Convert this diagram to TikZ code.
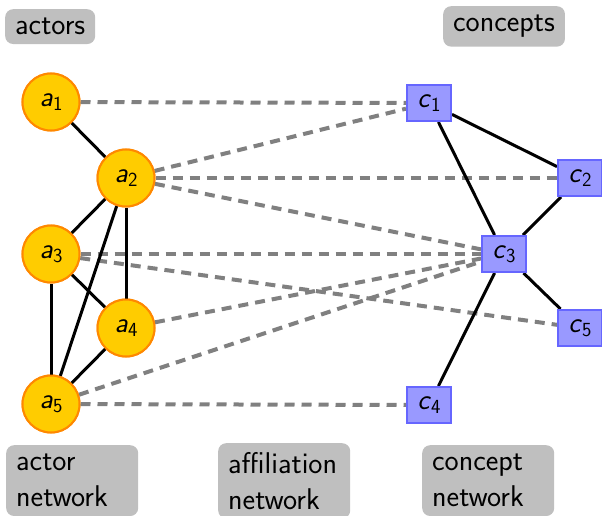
\documentclass[tikz,border=0pt]{standalone}
\usepackage{fontspec}
\definecolor{actorfill}{RGB}{255,204,0}
\definecolor{actorline}{RGB}{255,136,0}
\definecolor{conceptfill}{RGB}{153,153,255}
\definecolor{conceptline}{RGB}{102,102,255}
\definecolor{tagfill}{RGB}{191,191,191}
\definecolor{affil}{RGB}{128,128,128}
\newcommand\idx[2]{\textit{#1}\raisebox{-4pt}{\fontsize{20}{20}\selectfont #2}}
\tikzset{
  actor/.style={circle, fill=actorfill, draw=actorline, line width=2pt,
    minimum size=57pt, inner sep=0pt, font=\sffamily\fontsize{29}{34}\selectfont},
  concept/.style={rectangle, fill=conceptfill, draw=conceptline, line width=2pt,
    minimum width=44pt, minimum height=36pt, inner sep=0pt,
    font=\sffamily\fontsize{29}{34}\selectfont},
  tag/.style={rectangle, rounded corners=8pt, fill=tagfill, anchor=north west,
    inner xsep=10pt, inner ysep=9pt, align=left,
    font=\sffamily\fontsize{30}{36}\selectfont},
  wide tag/.style={tag, text width=112pt},
  tie/.style={line width=3pt, black},
  link/.style={line width=4pt, affil, dash pattern=on 10pt off 7pt},
}
\begin{document}
\begin{tikzpicture}[x=1pt,y=-1pt]
\useasboundingbox (0,0) rectangle (602,516);
\clip (0,0) rectangle (602,516);

% group labels
\node[tag] (tActors) at (5,9) {actors};
\node[tag] (tConcepts) at (443,6) {concepts};
\node[wide tag] (tActorNet) at (6,445) {actor\\network};
\node[wide tag] (tAffilNet) at (218,443) {affiliation\\network};
\node[wide tag] (tConceptNet) at (422,445) {concept\\network};

% actors
\node[actor] (a1) at (51,102) {\idx{a}{1}};
\node[actor] (a2) at (126,178) {\idx{a}{2}};
\node[actor] (a3) at (51,254) {\idx{a}{3}};
\node[actor] (a4) at (126,328) {\idx{a}{4}};
\node[actor] (a5) at (51,404) {\idx{a}{5}};

% concepts
\node[concept] (c1) at (429,103) {\idx{c}{1}};
\node[concept] (c2) at (580,178) {\idx{c}{2}};
\node[concept] (c3) at (504,254) {\idx{c}{3}};
\node[concept] (c4) at (429,405) {\idx{c}{4}};
\node[concept] (c5) at (580,328) {\idx{c}{5}};

% affiliation network
\foreach \a/\c in {a1/c1, a2/c1, a2/c2, a2/c3, a3/c3, a3/c5, a4/c3, a5/c3, a5/c4}
  \draw[link] (\a) -- (\c);

% actor network
\foreach \u/\v in {a1/a2, a2/a3, a2/a4, a2/a5, a3/a4, a3/a5, a4/a5}
  \draw[tie] (\u) -- (\v);

% concept network
\foreach \u/\v in {c1/c2, c1/c3, c2/c3, c3/c5, c3/c4}
  \draw[tie] (\u) -- (\v);

% redraw nodes above the connectors
\node[actor] at (a1) {\idx{a}{1}};
\node[actor] at (a2) {\idx{a}{2}};
\node[actor] at (a3) {\idx{a}{3}};
\node[actor] at (a4) {\idx{a}{4}};
\node[actor] at (a5) {\idx{a}{5}};
\node[concept] at (c1) {\idx{c}{1}};
\node[concept] at (c2) {\idx{c}{2}};
\node[concept] at (c3) {\idx{c}{3}};
\node[concept] at (c4) {\idx{c}{4}};
\node[concept] at (c5) {\idx{c}{5}};
\end{tikzpicture}
\end{document}
